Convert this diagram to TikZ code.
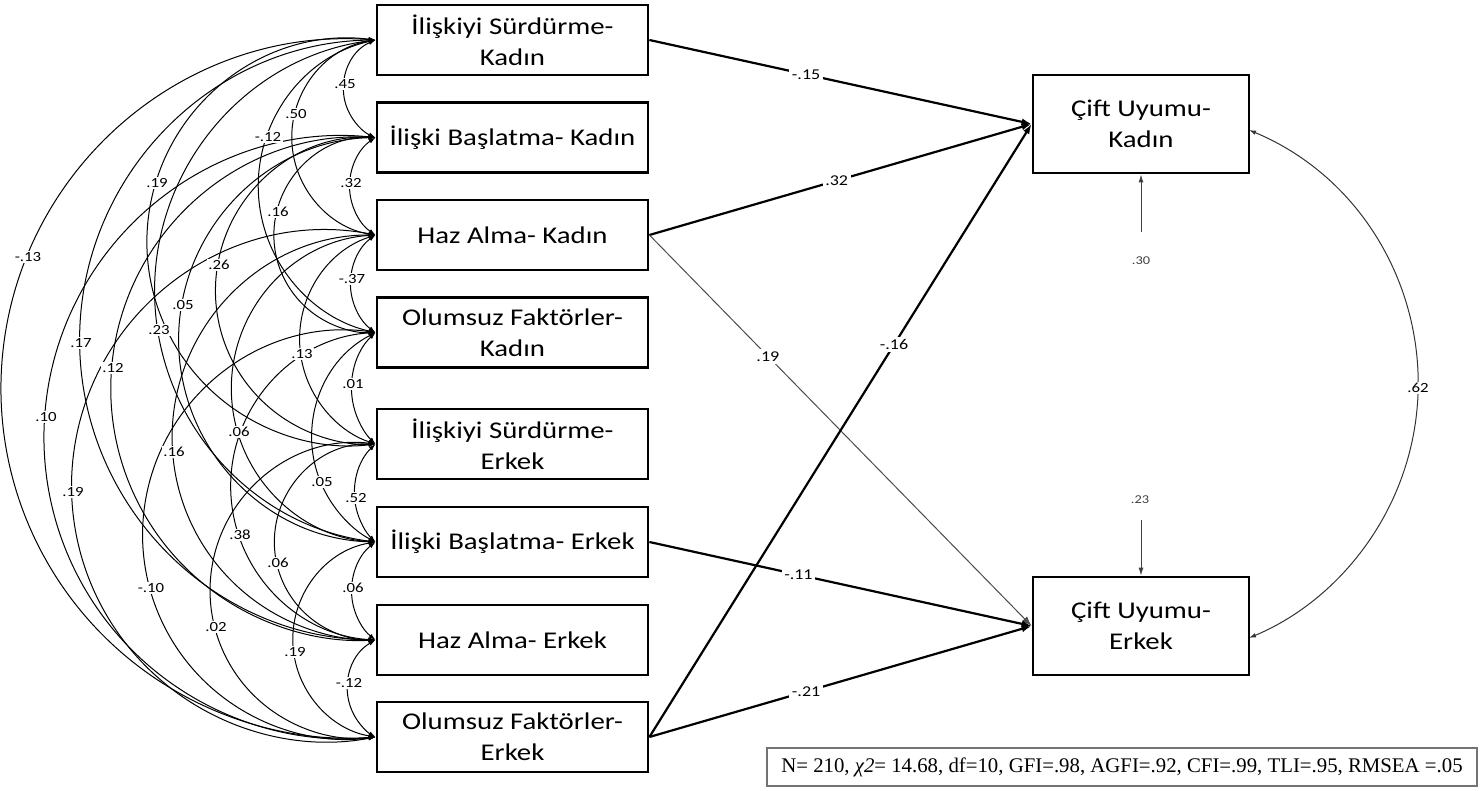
\documentclass[tikz,border=0pt]{standalone}
\usepackage{fontspec}
\setmainfont{Carlito}
\newfontfamily\boxfont[FakeStretch=1.2]{Carlito}
\newfontfamily\fitfont{Liberation Serif}
\usetikzlibrary{arrows.meta}
\begin{document}
\begin{tikzpicture}[x=1pt,y=-1pt,
  var/.style={draw=black, line width=2.8pt, minimum width=271pt, minimum height=70pt, inner sep=0pt, align=center, font=\boxfont\fontsize{24}{31}\selectfont},
  dep/.style={var, minimum width=216pt, minimum height=98pt},
  cov/.style={line width=1pt, {Latex[length=7pt,width=4.5pt]}-{Latex[length=7pt,width=4.5pt]}},
  clab/.style={fill=white, inner sep=1.5pt, font=\boxfont\fontsize{14}{14}\selectfont},
  reg/.style={line width=2.2pt, -{Latex[length=10pt,width=7pt]}},
  plab/.style={fill=white, inner sep=2.5pt, font=\boxfont\fontsize{15}{15}\selectfont},
  res/.style={line width=1pt, draw=black!75, -{Latex[length=8pt,width=5pt]}},
  rlab/.style={inner sep=1pt, text=black!75, font=\boxfont\fontsize{12}{12}\selectfont},
  fitbox/.style={draw=black!55, line width=1.2pt, minimum width=710pt, minimum height=38pt, inner sep=0pt, font=\fitfont\fontsize{20.8}{24}\selectfont}
]
\useasboundingbox (0,0) rectangle (1483,790);

% exogenous variables
\node[var] (b1) at (512.5,40)    {İlişkiyi Sürdürme-\\Kadın};
\node[var] (b2) at (512.5,137.5) {İlişki Başlatma- Kadın};
\node[var] (b3) at (512.5,235)   {Haz Alma- Kadın};
\node[var] (b4) at (512.5,332.5) {Olumsuz Faktörler-\\Kadın};
\node[var] (b5) at (512.5,444)   {İlişkiyi Sürdürme-\\Erkek};
\node[var] (b6) at (512.5,542)   {İlişki Başlatma- Erkek};
\node[var] (b7) at (512.5,640)   {Haz Alma- Erkek};
\node[var] (b8) at (512.5,737)   {Olumsuz Faktörler-\\Erkek};

% endogenous variables
\node[dep] (k) at (1141,124) {Çift Uyumu-\\Kadın};
\node[dep] (e) at (1141,626) {Çift Uyumu-\\Erkek};

% covariances among exogenous variables (circular arcs through the label point)
\def\Ylist{{40,137.5,235,332.5,444,542,640,737}}
\def\covlist{1/2/345/84/.45, 1/3/296/114/.50, 1/4/268/137/-.12, 1/5/157/183/.19,
  1/6/159/330/.23, 1/7/81/343/.17, 1/8/28/257/-.13,
  2/3/351/183/.32, 2/4/278/212/.16, 2/5/219/265/.26, 2/6/183/305/.05,
  2/7/113/368/.12, 2/8/46/417/.10,
  3/4/352/279/-.37, 3/5/302/354/.13, 3/6/239/432/.06, 3/7/174/452/.16, 3/8/73/492/.19,
  4/5/353/384/.01, 4/6/322/482/.05, 4/7/240/535/.38, 4/8/151/588/-.10,
  5/6/356/498/.52, 5/7/278/563/.06, 5/8/216/627/.02,
  6/7/353/588/.06, 6/8/295/652/.19,
  7/8/349/683/-.12}
\foreach \i/\j/\lx/\ly/\lab in \covlist {
  \pgfmathsetmacro\cvya{\Ylist[\i-1]}
  \pgfmathsetmacro\cvyb{\Ylist[\j-1]}
  \pgfmathsetmacro\cvym{(\cvya+\cvyb)/2}
  \pgfmathsetmacro\cvhh{(\cvyb-\cvya)/200}
  \pgfmathsetmacro\cvdx{(\lx-377)/100}
  \pgfmathsetmacro\cvsx{(\lx+377)/100}
  \pgfmathsetmacro\cvdy{(\ly-\cvym)/100}
  \pgfmathsetmacro\cvxc{100*(\cvdx*\cvsx+\cvdy*\cvdy-\cvhh*\cvhh)/(2*\cvdx)}
  \pgfmathsetmacro\cvuu{(377-\cvxc)/100}
  \pgfmathsetmacro\cvrad{100*sqrt(\cvuu*\cvuu+\cvhh*\cvhh)}
  \pgfmathsetmacro\cvaa{atan2(-\cvhh,\cvuu)}
  \pgfmathsetmacro\cvab{atan2(\cvhh,\cvuu)-360}
  \draw[cov] (b\i.west) arc[start angle=\cvaa, end angle=\cvab, radius=\cvrad];
}
\foreach \i/\j/\lx/\ly/\lab in \covlist {
  \node[clab] (c\i\j) at (\lx,\ly) {\lab};
}

% regression paths
\draw[reg] (b1.east) -- node[plab, pos=0.41] (p1) {-.15} (k.west);
\draw[reg] (b3.east) -- node[plab, pos=0.49] (p2) {.32} (k.west);
\draw[reg, line width=1pt, draw=black!70] (b3.east) -- node[plab, pos=0.31] (p3) {.19} (e.west);
\draw[reg] (b8.east) -- node[plab, pos=0.64] (p4) {-.16} (k.west);
\draw[reg] (b6.east) -- node[plab, pos=0.39] (p5) {-.11} (e.west);
\draw[reg] (b8.east) -- node[plab, pos=0.41] (p6) {-.21} (e.west);

% residuals
\coordinate (r1) at (1141,232);
\node[rlab] (l30) at (1141,261) {.30};
\draw[res] (r1) -- (k.south);
\coordinate (r2) at (1141,520);
\node[rlab] (l23) at (1140,500) {.23};
\draw[res] (r2) -- (e.north);

% covariance of residuals
\coordinate (k62) at (1249,130);
\coordinate (e62) at (1249,638);
\draw[cov, draw=black!80] (k62) arc[start angle=-67.3, end angle=67.3, radius=275.3];
\node[clab, font=\boxfont\fontsize{14}{14}\selectfont] (l62) at (1418,388) {.62};

% fit indices
\node[fitbox] (fit) at (1122,767) {N= 210, \textit{χ2}= 14.68, df=10, GFI=.98, AGFI=.92, CFI=.99, TLI=.95, RMSEA =.05};
\end{tikzpicture}
\end{document}
